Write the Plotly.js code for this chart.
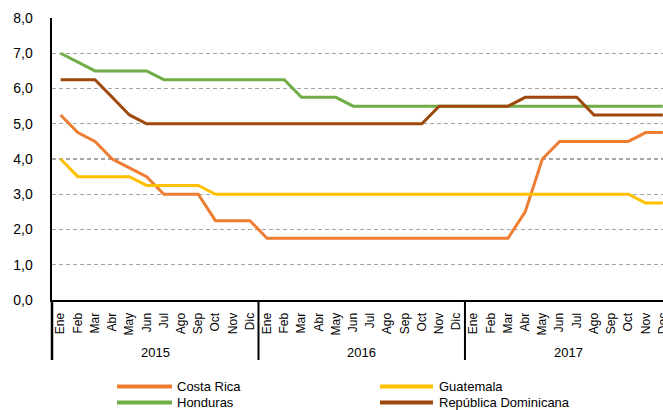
<!DOCTYPE html>
<html>
<head>
<meta charset="utf-8">
<script src="https://cdn.plot.ly/plotly-3.0.1.min.js"></script>
<style>
  html, body { margin: 0; padding: 0; background: #ffffff; }
  #chart { width: 663px; height: 410px; }
</style>
</head>
<body>
<div id="chart"></div>
<script>
// Monthly policy rates (%), Jan 2015 – Dec 2017
const years = ['2015', '2016', '2017'];
const months2015 = ['Ene', 'Feb', 'Mar', 'Abr', 'May', 'Jun', 'Jul', 'Ago', 'Sep', 'Oct', 'Nov', 'Dic'];
const months2016 = ['Ene', 'Feb', 'Mar', 'Abr', 'May', 'Jun', 'Jul', 'Ago', 'Sep', 'Oct', 'Nov', 'Dic'];
const months2017 = ['Ene', 'Feb', 'Mar', 'Abr', 'May', 'Jun', 'Jul', 'Ago', 'Sep', 'Oct', 'Nov', 'Dec'];

const costaRica = [
  5.25, 4.75, 4.5, 4.0, 3.75, 3.5, 3.0, 3.0, 3.0, 2.25, 2.25, 2.25,
  1.75, 1.75, 1.75, 1.75, 1.75, 1.75, 1.75, 1.75, 1.75, 1.75, 1.75, 1.75,
  1.75, 1.75, 1.75, 2.5, 4.0, 4.5, 4.5, 4.5, 4.5, 4.5, 4.75, 4.75
];
const guatemala = [
  4.0, 3.5, 3.5, 3.5, 3.5, 3.25, 3.25, 3.25, 3.25, 3.0, 3.0, 3.0,
  3.0, 3.0, 3.0, 3.0, 3.0, 3.0, 3.0, 3.0, 3.0, 3.0, 3.0, 3.0,
  3.0, 3.0, 3.0, 3.0, 3.0, 3.0, 3.0, 3.0, 3.0, 3.0, 2.75, 2.75
];
const honduras = [
  7.0, 6.75, 6.5, 6.5, 6.5, 6.5, 6.25, 6.25, 6.25, 6.25, 6.25, 6.25,
  6.25, 6.25, 5.75, 5.75, 5.75, 5.5, 5.5, 5.5, 5.5, 5.5, 5.5, 5.5,
  5.5, 5.5, 5.5, 5.5, 5.5, 5.5, 5.5, 5.5, 5.5, 5.5, 5.5, 5.5
];
const republicaDominicana = [
  6.25, 6.25, 6.25, 5.75, 5.25, 5.0, 5.0, 5.0, 5.0, 5.0, 5.0, 5.0,
  5.0, 5.0, 5.0, 5.0, 5.0, 5.0, 5.0, 5.0, 5.0, 5.0, 5.5, 5.5,
  5.5, 5.5, 5.5, 5.75, 5.75, 5.75, 5.75, 5.25, 5.25, 5.25, 5.25, 5.25
];

const seriesNames = ['Costa Rica', 'Guatemala', 'Honduras', 'República Dominicana'];
const seriesColors = ['#ED7D31', '#FFC000', '#70AD47', '#9E480E'];
const seriesValues = [costaRica, guatemala, honduras, republicaDominicana];

const monthGroups = [months2015, months2016, months2017];
const monthLabels = [].concat(...monthGroups);
const xIdx = monthLabels.map((_, i) => i);

const FONT = 'Liberation Sans, Arial, sans-serif';

// Plot-area geometry (pixels), used to place the pieces drawn outside it
const W = 663, H = 410;
const M = { l: 52, r: 0, t: 18, b: 110 };
const plotW = W - M.l - M.r;
const plotH = H - M.t - M.b;
const pxX = px => (px - M.l) / plotW;
const pxY = py => (H - M.b - py) / plotH;

const traces = seriesValues.map((vals, k) => ({
  type: 'scatter',
  mode: 'lines',
  x: xIdx,
  y: vals,
  name: seriesNames[k],
  line: { color: seriesColors[k], width: 3 },
  showlegend: false,
  hoverinfo: 'skip'
}));

// Year grouping: dividers below the axis and centred year labels
const shapes = [];
const annotations = [];
shapes.push({
  type: 'line', xref: 'paper', yref: 'paper',
  x0: 0, x1: 0, y0: 0, y1: pxY(360),
  line: { color: '#000000', width: 2.5 }
});
let start = 0;
monthGroups.forEach((g, gi) => {
  const end = start + g.length;
  if (gi < monthGroups.length - 1) {
    shapes.push({
      type: 'line', xref: 'x', yref: 'paper',
      x0: end - 0.5, x1: end - 0.5, y0: 0, y1: pxY(360),
      line: { color: '#000000', width: 2 }
    });
  }
  annotations.push({
    xref: 'x', yref: 'paper',
    x: (start + end - 1) / 2, y: pxY(352),
    text: years[gi], showarrow: false,
    xanchor: 'center', yanchor: 'middle',
    font: { family: FONT, size: 13, color: '#000000' }
  });
  start = end;
});

// Legend in two columns
const legendPos = [
  { sx: 117, ex: 172, tx: 176, y: 386.5 },
  { sx: 380, ex: 433, tx: 438, y: 386.5 },
  { sx: 117, ex: 172, tx: 176, y: 402.5 },
  { sx: 380, ex: 433, tx: 438, y: 402.5 }
];
seriesNames.forEach((name, k) => {
  const p = legendPos[k];
  shapes.push({
    type: 'line', xref: 'paper', yref: 'paper',
    x0: pxX(p.sx), x1: pxX(p.ex), y0: pxY(p.y), y1: pxY(p.y),
    line: { color: seriesColors[k], width: 4 }
  });
  annotations.push({
    xref: 'paper', yref: 'paper',
    x: pxX(p.tx), y: pxY(p.y),
    text: name, showarrow: false,
    xanchor: 'left', yanchor: 'middle',
    borderpad: 0,
    font: { family: FONT, size: 13, color: '#000000' }
  });
});

const layout = {
  width: W, height: H,
  margin: M,
  paper_bgcolor: '#ffffff',
  plot_bgcolor: '#ffffff',
  separators: ',.',
  font: { family: FONT, color: '#000000' },
  xaxis: {
    range: [-0.5, xIdx.length - 1 + 0.01],
    tickmode: 'array',
    tickvals: xIdx,
    ticktext: monthLabels,
    tickangle: -90,
    tickfont: { family: FONT, size: 12, color: '#000000' },
    ticks: '',
    ticklabelstandoff: 6,
    ticklabeloverflow: 'allow',
    showgrid: false,
    zeroline: false,
    showline: true,
    linecolor: '#000000',
    linewidth: 2,
    fixedrange: true
  },
  yaxis: {
    range: [0, 8],
    dtick: 1,
    tick0: 0,
    tickformat: '.1f',
    tickfont: { family: FONT, size: 14, color: '#000000' },
    ticks: '',
    ticklabelstandoff: 14,
    showgrid: true,
    gridcolor: '#A6A6A6',
    gridwidth: 1.3,
    griddash: '4px,3px',
    zeroline: false,
    showline: true,
    linecolor: '#000000',
    linewidth: 2.5,
    fixedrange: true
  },
  shapes: shapes,
  annotations: annotations,
  showlegend: false
};

Plotly.newPlot('chart', traces, layout, { displayModeBar: false, staticPlot: true });
</script>
</body>
</html>
